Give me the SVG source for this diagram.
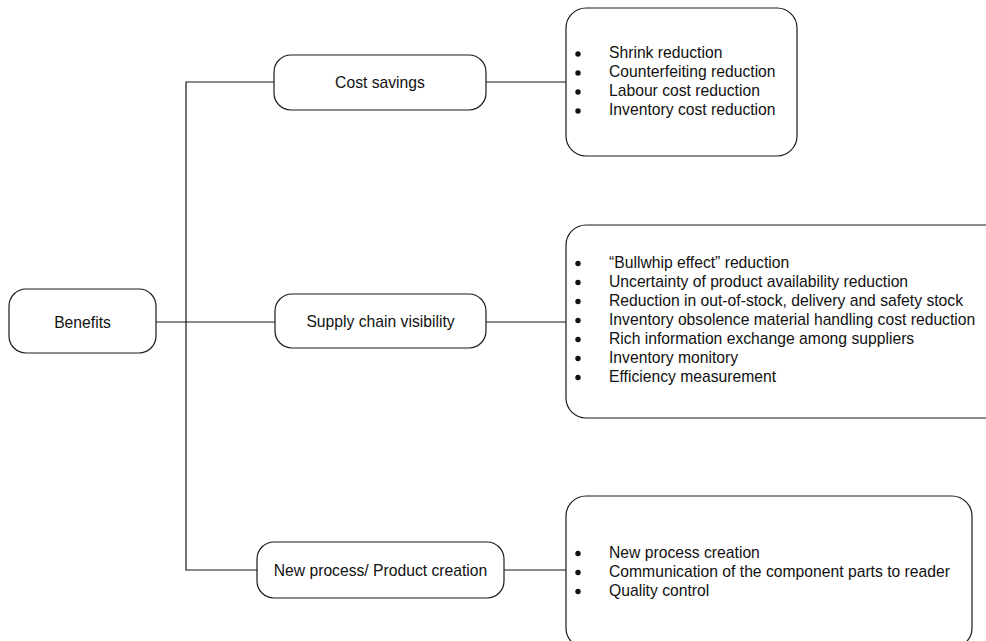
<svg xmlns="http://www.w3.org/2000/svg" width="986" height="641" viewBox="0 0 986 641">
  <style>
    .box { fill: #fff; stroke: #1a1a1a; stroke-width: 1.2; }
    .wire { fill: none; stroke: #1a1a1a; stroke-width: 1.2; }
    .lbl { font-family: "Liberation Sans", Arial, sans-serif; font-size: 15.7px; fill: #111; }
    .mid { text-anchor: middle; }
  </style>
  <rect width="986" height="641" fill="#fff"/>

  <!-- tree connectors -->
  <g id="connectors">
    <path class="wire" d="M156 322 H275"/>
    <path class="wire" d="M274 82 H186 V570 H257"/>
    <path class="wire" d="M486 82 H566"/>
    <path class="wire" d="M486 322 H566"/>
    <path class="wire" d="M504 570 H566"/>
  </g>

  <g id="benefits">
    <rect class="box" x="9" y="289" width="147" height="64" rx="17"/>
    <text class="lbl mid" x="82.5" y="327.5">Benefits</text>
  </g>

  <g id="cost-savings">
    <rect class="box" x="274" y="55" width="212" height="55" rx="17"/>
    <text class="lbl mid" x="380" y="87.5">Cost savings</text>
  </g>

  <g id="supply-chain">
    <rect class="box" x="275" y="294" width="211" height="54" rx="17"/>
    <text class="lbl mid" x="380.5" y="327">Supply chain visibility</text>
  </g>

  <g id="new-process">
    <rect class="box" x="257" y="542" width="247" height="56" rx="17"/>
    <text class="lbl mid" x="380.5" y="575.5">New process/ Product creation</text>
  </g>

  <g id="cost-details">
    <rect class="box" x="566" y="8" width="231" height="148" rx="20"/>
    <g class="lbl">
      <circle cx="578" cy="54" r="2.7"/><text x="609" y="58">Shrink reduction</text>
      <circle cx="578" cy="73" r="2.7"/><text x="609" y="77">Counterfeiting reduction</text>
      <circle cx="578" cy="92" r="2.7"/><text x="609" y="96">Labour cost reduction</text>
      <circle cx="578" cy="111" r="2.7"/><text x="609" y="115">Inventory cost reduction</text>
    </g>
  </g>

  <g id="supply-details">
    <rect class="box" x="566" y="225" width="440" height="193" rx="20"/>
    <g class="lbl">
      <circle cx="578" cy="263.5" r="2.7"/><text x="609" y="267.5">“Bullwhip effect” reduction</text>
      <circle cx="578" cy="282.5" r="2.7"/><text x="609" y="286.5">Uncertainty of product availability reduction</text>
      <circle cx="578" cy="301.5" r="2.7"/><text x="609" y="305.5">Reduction in out-of-stock, delivery and safety stock</text>
      <circle cx="578" cy="320.5" r="2.7"/><text x="609" y="324.5">Inventory obsolence material handling cost reduction</text>
      <circle cx="578" cy="339.5" r="2.7"/><text x="609" y="343.5">Rich information exchange among suppliers</text>
      <circle cx="578" cy="358.5" r="2.7"/><text x="609" y="362.5">Inventory monitory</text>
      <circle cx="578" cy="377.5" r="2.7"/><text x="609" y="381.5">Efficiency measurement</text>
    </g>
  </g>

  <g id="process-details">
    <rect class="box" x="566" y="496" width="406" height="152" rx="20"/>
    <g class="lbl">
      <circle cx="578" cy="553.5" r="2.7"/><text x="609" y="557.5">New process creation</text>
      <circle cx="578" cy="572.5" r="2.7"/><text x="609" y="576.5">Communication of the component parts to reader</text>
      <circle cx="578" cy="591.5" r="2.7"/><text x="609" y="595.5">Quality control</text>
    </g>
  </g>
</svg>
